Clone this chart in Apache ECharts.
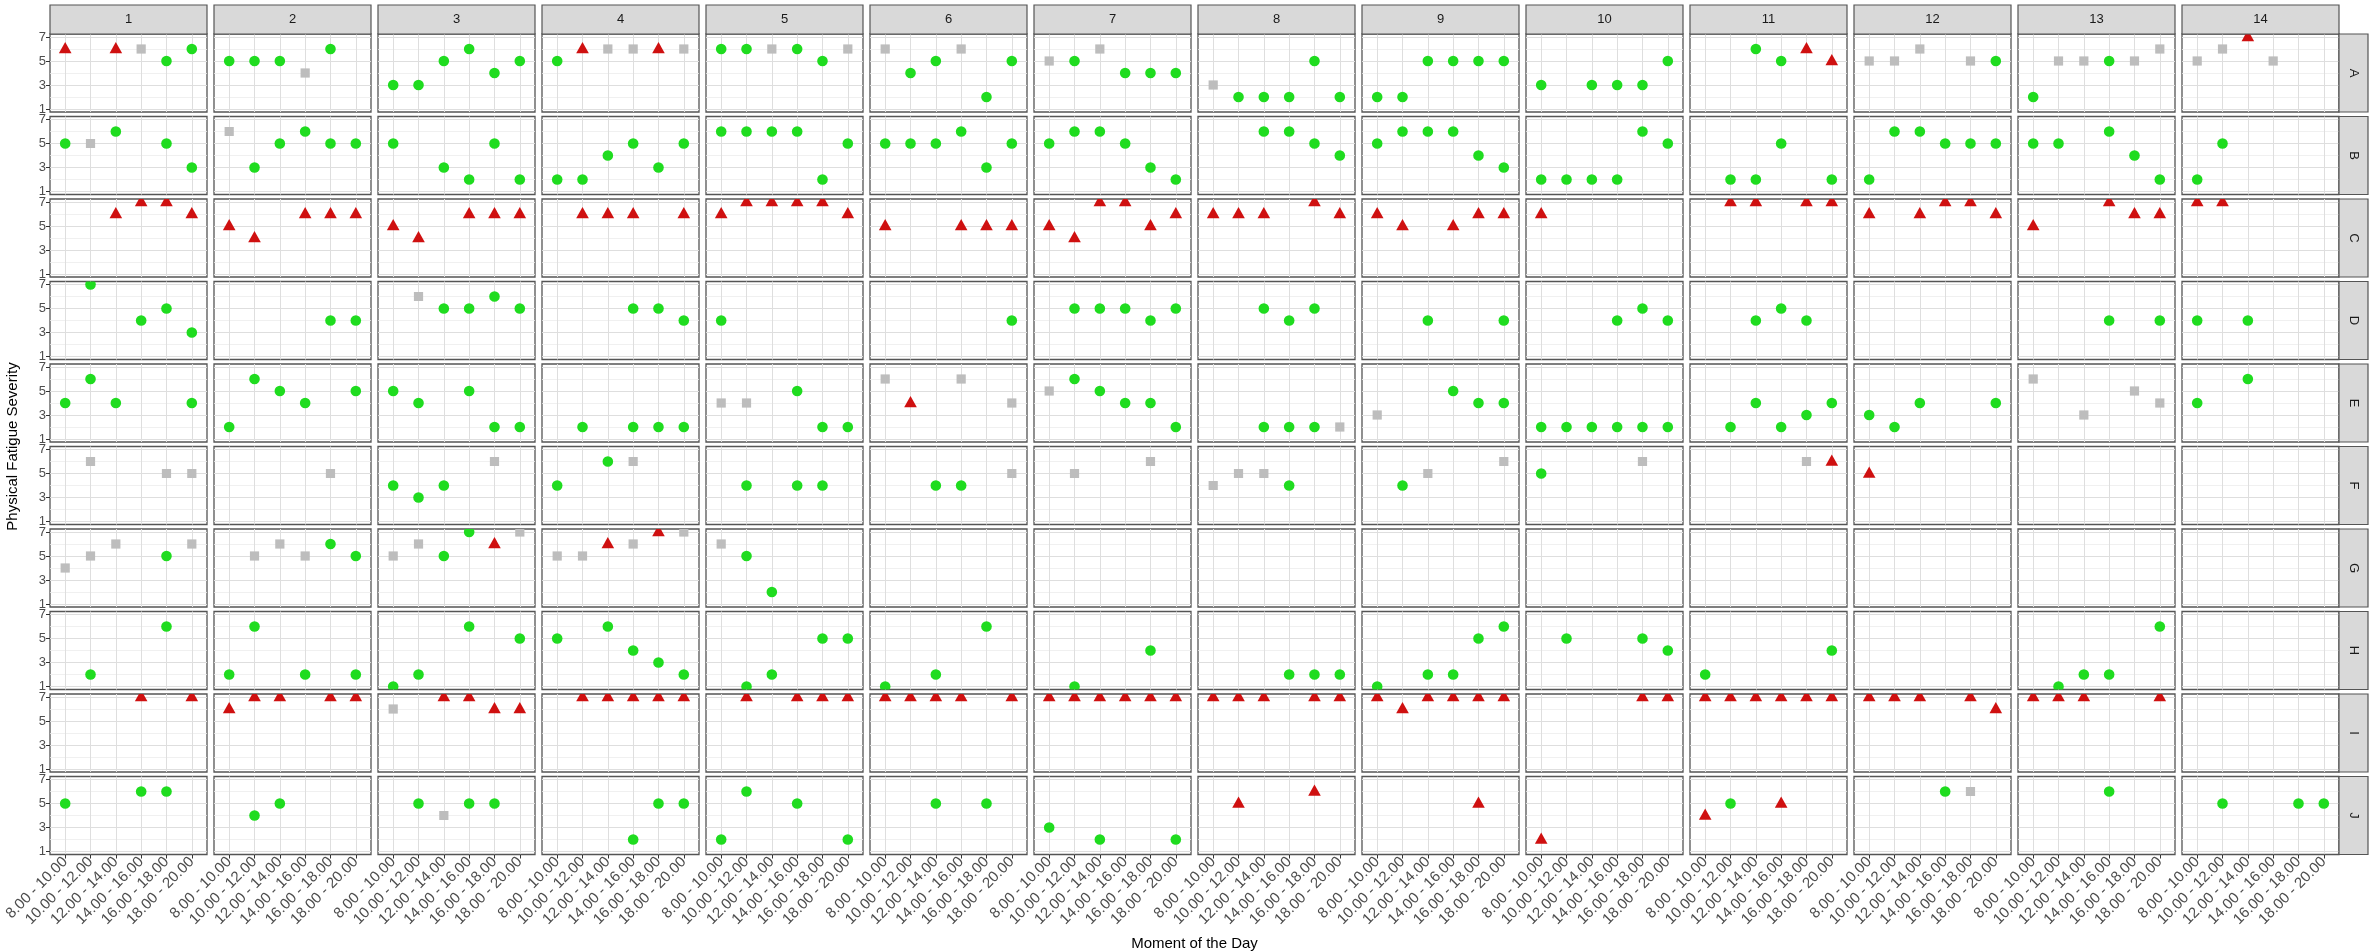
<!DOCTYPE html>
<html>
<head>
<meta charset="utf-8">
<script src="https://cdn.jsdelivr.net/npm/echarts@6/dist/echarts.min.js"></script>
<style>
html,body{margin:0;padding:0;background:#fff;}
#chart{width:2370px;height:951px;}
</style>
</head>
<body>
<div id="chart"></div>
<script>
// ---------- categories / ticks ----------
const rowLabels = ['A','B','C','D','E','F','G','H','I','J'];
const colLabels = ['1','2','3','4','5','6','7','8','9','10','11','12','13','14'];
const timeSlots = ['8.00 - 10.00','10.00 - 12.00','12.00 - 14.00','14.00 - 16.00','16.00 - 18.00','18.00 - 20.00'];
const yTicks = [1,3,5,7];
const yMinorTicks = [2,4,6];

// ---------- data: [row, column, time slot (1-6), severity] ----------
const circlePoints = [
 ['A',1,5,5],['A',1,6,6],
 ['A',2,1,5],['A',2,2,5],['A',2,3,5],['A',2,5,6],
 ['A',3,1,3],['A',3,2,3],['A',3,3,5],['A',3,4,6],['A',3,5,4],['A',3,6,5],
 ['A',4,1,5],
 ['A',5,1,6],['A',5,2,6],['A',5,4,6],['A',5,5,5],
 ['A',6,2,4],['A',6,3,5],['A',6,5,2],['A',6,6,5],
 ['A',7,2,5],['A',7,4,4],['A',7,5,4],['A',7,6,4],
 ['A',8,2,2],['A',8,3,2],['A',8,4,2],['A',8,5,5],['A',8,6,2],
 ['A',9,1,2],['A',9,2,2],['A',9,3,5],['A',9,4,5],['A',9,5,5],['A',9,6,5],
 ['A',10,1,3],['A',10,3,3],['A',10,4,3],['A',10,5,3],['A',10,6,5],
 ['A',11,3,6],['A',11,4,5],
 ['A',12,6,5],
 ['A',13,1,2],['A',13,4,5],

 ['B',1,1,5],['B',1,3,6],['B',1,5,5],['B',1,6,3],
 ['B',2,2,3],['B',2,3,5],['B',2,4,6],['B',2,5,5],['B',2,6,5],
 ['B',3,1,5],['B',3,3,3],['B',3,4,2],['B',3,5,5],['B',3,6,2],
 ['B',4,1,2],['B',4,2,2],['B',4,3,4],['B',4,4,5],['B',4,5,3],['B',4,6,5],
 ['B',5,1,6],['B',5,2,6],['B',5,3,6],['B',5,4,6],['B',5,5,2],['B',5,6,5],
 ['B',6,1,5],['B',6,2,5],['B',6,3,5],['B',6,4,6],['B',6,5,3],['B',6,6,5],
 ['B',7,1,5],['B',7,2,6],['B',7,3,6],['B',7,4,5],['B',7,5,3],['B',7,6,2],
 ['B',8,3,6],['B',8,4,6],['B',8,5,5],['B',8,6,4],
 ['B',9,1,5],['B',9,2,6],['B',9,3,6],['B',9,4,6],['B',9,5,4],['B',9,6,3],
 ['B',10,1,2],['B',10,2,2],['B',10,3,2],['B',10,4,2],['B',10,5,6],['B',10,6,5],
 ['B',11,2,2],['B',11,3,2],['B',11,4,5],['B',11,6,2],
 ['B',12,1,2],['B',12,2,6],['B',12,3,6],['B',12,4,5],['B',12,5,5],['B',12,6,5],
 ['B',13,1,5],['B',13,2,5],['B',13,4,6],['B',13,5,4],['B',13,6,2],
 ['B',14,1,2],['B',14,2,5],

 ['D',1,2,7],['D',1,4,4],['D',1,5,5],['D',1,6,3],
 ['D',2,5,4],['D',2,6,4],
 ['D',3,3,5],['D',3,4,5],['D',3,5,6],['D',3,6,5],
 ['D',4,4,5],['D',4,5,5],['D',4,6,4],
 ['D',5,1,4],
 ['D',6,6,4],
 ['D',7,2,5],['D',7,3,5],['D',7,4,5],['D',7,5,4],['D',7,6,5],
 ['D',8,3,5],['D',8,4,4],['D',8,5,5],
 ['D',9,3,4],['D',9,6,4],
 ['D',10,4,4],['D',10,5,5],['D',10,6,4],
 ['D',11,3,4],['D',11,4,5],['D',11,5,4],
 ['D',13,4,4],['D',13,6,4],
 ['D',14,1,4],['D',14,3,4],

 ['E',1,1,4],['E',1,2,6],['E',1,3,4],['E',1,6,4],
 ['E',2,1,2],['E',2,2,6],['E',2,3,5],['E',2,4,4],['E',2,6,5],
 ['E',3,1,5],['E',3,2,4],['E',3,4,5],['E',3,5,2],['E',3,6,2],
 ['E',4,2,2],['E',4,4,2],['E',4,5,2],['E',4,6,2],
 ['E',5,4,5],['E',5,5,2],['E',5,6,2],
 ['E',7,2,6],['E',7,3,5],['E',7,4,4],['E',7,5,4],['E',7,6,2],
 ['E',8,3,2],['E',8,4,2],['E',8,5,2],
 ['E',9,4,5],['E',9,5,4],['E',9,6,4],
 ['E',10,1,2],['E',10,2,2],['E',10,3,2],['E',10,4,2],['E',10,5,2],['E',10,6,2],
 ['E',11,2,2],['E',11,3,4],['E',11,4,2],['E',11,5,3],['E',11,6,4],
 ['E',12,1,3],['E',12,2,2],['E',12,3,4],['E',12,6,4],
 ['E',14,1,4],['E',14,3,6],

 ['F',3,1,4],['F',3,2,3],['F',3,3,4],
 ['F',4,1,4],['F',4,3,6],
 ['F',5,2,4],['F',5,4,4],['F',5,5,4],
 ['F',6,3,4],['F',6,4,4],
 ['F',8,4,4],
 ['F',9,2,4],
 ['F',10,1,5],

 ['G',1,5,5],
 ['G',2,5,6],['G',2,6,5],
 ['G',3,3,5],['G',3,4,7],
 ['G',5,2,5],['G',5,3,2],

 ['H',1,2,2],['H',1,5,6],
 ['H',2,1,2],['H',2,2,6],['H',2,4,2],['H',2,6,2],
 ['H',3,1,1],['H',3,2,2],['H',3,4,6],['H',3,6,5],
 ['H',4,1,5],['H',4,3,6],['H',4,4,4],['H',4,5,3],['H',4,6,2],
 ['H',5,2,1],['H',5,3,2],['H',5,5,5],['H',5,6,5],
 ['H',6,1,1],['H',6,3,2],['H',6,5,6],
 ['H',7,2,1],['H',7,5,4],
 ['H',8,4,2],['H',8,5,2],['H',8,6,2],
 ['H',9,1,1],['H',9,3,2],['H',9,4,2],['H',9,5,5],['H',9,6,6],
 ['H',10,2,5],['H',10,5,5],['H',10,6,4],
 ['H',11,1,2],['H',11,6,4],
 ['H',13,2,1],['H',13,3,2],['H',13,4,2],['H',13,6,6],

 ['J',1,1,5],['J',1,4,6],['J',1,5,6],
 ['J',2,2,4],['J',2,3,5],
 ['J',3,2,5],['J',3,4,5],['J',3,5,5],
 ['J',4,4,2],['J',4,5,5],['J',4,6,5],
 ['J',5,1,2],['J',5,2,6],['J',5,4,5],['J',5,6,2],
 ['J',6,3,5],['J',6,5,5],
 ['J',7,1,3],['J',7,3,2],['J',7,6,2],
 ['J',11,2,5],
 ['J',12,4,6],
 ['J',13,4,6],
 ['J',14,2,5],['J',14,5,5],['J',14,6,5]
];

const trianglePoints = [
 ['A',1,1,6],['A',1,3,6],['A',4,2,6],['A',4,5,6],['A',11,5,6],['A',11,6,5],['A',14,3,7],

 ['C',1,3,6],['C',1,4,7],['C',1,5,7],['C',1,6,6],
 ['C',2,1,5],['C',2,2,4],['C',2,4,6],['C',2,5,6],['C',2,6,6],
 ['C',3,1,5],['C',3,2,4],['C',3,4,6],['C',3,5,6],['C',3,6,6],
 ['C',4,2,6],['C',4,3,6],['C',4,4,6],['C',4,6,6],
 ['C',5,1,6],['C',5,2,7],['C',5,3,7],['C',5,4,7],['C',5,5,7],['C',5,6,6],
 ['C',6,1,5],['C',6,4,5],['C',6,5,5],['C',6,6,5],
 ['C',7,1,5],['C',7,2,4],['C',7,3,7],['C',7,4,7],['C',7,5,5],['C',7,6,6],
 ['C',8,1,6],['C',8,2,6],['C',8,3,6],['C',8,5,7],['C',8,6,6],
 ['C',9,1,6],['C',9,2,5],['C',9,4,5],['C',9,5,6],['C',9,6,6],
 ['C',10,1,6],
 ['C',11,2,7],['C',11,3,7],['C',11,5,7],['C',11,6,7],
 ['C',12,1,6],['C',12,3,6],['C',12,4,7],['C',12,5,7],['C',12,6,6],
 ['C',13,1,5],['C',13,4,7],['C',13,5,6],['C',13,6,6],
 ['C',14,1,7],['C',14,2,7],

 ['E',6,2,4],
 ['F',11,6,6],['F',12,1,5],
 ['G',3,5,6],['G',4,3,6],['G',4,5,7],

 ['I',1,4,7],['I',1,6,7],
 ['I',2,1,6],['I',2,2,7],['I',2,3,7],['I',2,5,7],['I',2,6,7],
 ['I',3,3,7],['I',3,4,7],['I',3,5,6],['I',3,6,6],
 ['I',4,2,7],['I',4,3,7],['I',4,4,7],['I',4,5,7],['I',4,6,7],
 ['I',5,2,7],['I',5,4,7],['I',5,5,7],['I',5,6,7],
 ['I',6,1,7],['I',6,2,7],['I',6,3,7],['I',6,4,7],['I',6,6,7],
 ['I',7,1,7],['I',7,2,7],['I',7,3,7],['I',7,4,7],['I',7,5,7],['I',7,6,7],
 ['I',8,1,7],['I',8,2,7],['I',8,3,7],['I',8,5,7],['I',8,6,7],
 ['I',9,1,7],['I',9,2,6],['I',9,3,7],['I',9,4,7],['I',9,5,7],['I',9,6,7],
 ['I',10,5,7],['I',10,6,7],
 ['I',11,1,7],['I',11,2,7],['I',11,3,7],['I',11,4,7],['I',11,5,7],['I',11,6,7],
 ['I',12,1,7],['I',12,2,7],['I',12,3,7],['I',12,5,7],['I',12,6,6],
 ['I',13,1,7],['I',13,2,7],['I',13,3,7],['I',13,6,7],

 ['J',8,2,5],['J',8,5,6],['J',9,5,5],['J',10,1,2],['J',11,1,4],['J',11,4,5]
];

const squarePoints = [
 ['A',1,4,6],['A',2,4,4],['A',4,3,6],['A',4,4,6],['A',4,6,6],['A',5,3,6],['A',5,6,6],
 ['A',6,1,6],['A',6,4,6],['A',7,1,5],['A',7,3,6],['A',8,1,3],
 ['A',12,1,5],['A',12,2,5],['A',12,3,6],['A',12,5,5],
 ['A',13,2,5],['A',13,3,5],['A',13,5,5],['A',13,6,6],
 ['A',14,1,5],['A',14,2,6],['A',14,4,5],
 ['B',1,2,5],['B',2,1,6],
 ['D',3,2,6],
 ['E',5,1,4],['E',5,2,4],['E',6,1,6],['E',6,4,6],['E',6,6,4],['E',7,1,5],['E',8,6,2],['E',9,1,3],
 ['E',13,1,6],['E',13,3,3],['E',13,5,5],['E',13,6,4],
 ['F',1,2,6],['F',1,5,5],['F',1,6,5],['F',2,5,5],['F',3,5,6],['F',4,4,6],['F',6,6,5],
 ['F',7,2,5],['F',7,5,6],['F',8,1,4],['F',8,2,5],['F',8,3,5],['F',9,3,5],['F',9,6,6],
 ['F',10,5,6],['F',11,5,6],
 ['G',1,1,4],['G',1,2,5],['G',1,3,6],['G',1,6,6],
 ['G',2,2,5],['G',2,3,6],['G',2,4,5],
 ['G',3,1,5],['G',3,2,6],['G',3,6,7],
 ['G',4,1,5],['G',4,2,5],['G',4,4,6],['G',4,6,7],
 ['G',5,1,6],
 ['I',3,1,6],
 ['J',3,3,4],['J',12,5,6]
];

// ---------- layout ----------
const LEFT = 50, TOP = 34, PW = 157, PSTEP = 164, PH = 78, RSTEP = 82.5;
const FONT = "'Liberation Sans', Arial, sans-serif";
const xTickVals = timeSlots.map((s, i) => i + 1);
const Y_MIN = 0.75, Y_MAX = 7.25;

// marker drawing (clipped to the panel like ggplot)
function markerRenderer(kind, color) {
  return function (params, api) {
    const p = api.coord([api.value(0), api.value(1)]);
    const x = p[0], y = p[1];
    if (kind === 'circle') {
      return {type: 'circle', shape: {cx: x, cy: y, r: 5.3}, style: {fill: color}};
    }
    if (kind === 'triangle') {
      return {type: 'polygon', shape: {points: [[x, y - 7], [x - 6.3, y + 4.2], [x + 6.3, y + 4.2]]}, style: {fill: color}};
    }
    return {type: 'rect', shape: {x: x - 4.6, y: y - 4.6, width: 9.2, height: 9.2}, style: {fill: color}};
  };
}

const grids = [], xAxes = [], yAxes = [], series = [];
const shapeDefs = [
  {name: 'green', pts: circlePoints, kind: 'circle', color: '#1fdc1f'},
  {name: 'red', pts: trianglePoints, kind: 'triangle', color: '#cf1010'},
  {name: 'grey', pts: squarePoints, kind: 'square', color: '#bdbdbd'}
];

rowLabels.forEach((r, ri) => {
  colLabels.forEach((c, ci) => {
    const gi = ri * colLabels.length + ci;
    grids.push({
      left: LEFT + ci * PSTEP, top: TOP + ri * RSTEP, width: PW, height: PH,
      show: true, backgroundColor: '#fff', borderColor: '#555', borderWidth: 1.3,
      containLabel: false
    });
    const bottomRow = ri === rowLabels.length - 1;
    const leftCol = ci === 0;
    xAxes.push({
      gridIndex: gi, type: 'value', min: 0.4, max: 6.6,
      axisLine: {show: false},
      axisTick: {show: bottomRow, customValues: xTickVals, length: 4, lineStyle: {color: '#333', width: 1}},
      axisLabel: {show: bottomRow, customValues: xTickVals, rotate: 45, margin: 5,
        fontSize: 15, color: '#4d4d4d', fontFamily: FONT,
        formatter: v => timeSlots[Math.round(v) - 1]},
      splitLine: {show: true, lineStyle: {color: '#dedede', width: 1}}
    });
    yAxes.push({
      gridIndex: gi, type: 'value', min: Y_MIN, max: Y_MAX,
      axisLine: {show: false},
      axisTick: {show: leftCol, customValues: yTicks, length: 4, lineStyle: {color: '#333', width: 1}},
      axisLabel: {show: leftCol, customValues: yTicks, margin: 4, fontSize: 13, color: '#4d4d4d', fontFamily: FONT},
      splitLine: {show: true, lineStyle: {color: '#dedede', width: 1}}
    });
    yAxes.push({
      gridIndex: gi, type: 'value', min: Y_MIN, max: Y_MAX, position: 'left',
      axisLine: {show: false},
      axisTick: {show: false, customValues: yMinorTicks},
      axisLabel: {show: false, customValues: yMinorTicks},
      splitLine: {show: true, lineStyle: {color: '#ececec', width: 0.8}}
    });
    shapeDefs.forEach(sd => {
      const d = sd.pts.filter(p => p[0] === r && String(p[1]) === c).map(p => [p[2], p[3]]);
      if (!d.length) return;
      series.push({
        type: 'custom', name: sd.name, coordinateSystem: 'cartesian2d',
        xAxisIndex: gi, yAxisIndex: gi * 2, clip: true, silent: true,
        encode: {x: 0, y: 1}, data: d, z: 5,
        renderItem: markerRenderer(sd.kind, sd.color)
      });
    });
  });
});

// strips and titles
const graphics = [];
colLabels.forEach((c, ci) => {
  const x = LEFT + ci * PSTEP;
  graphics.push({type: 'rect', shape: {x: x, y: TOP - 29, width: PW, height: 29},
    style: {fill: '#d9d9d9', stroke: '#555', lineWidth: 1.2}, z: 10});
  graphics.push({type: 'text', x: x + PW / 2, y: TOP - 14.5,
    style: {text: c, align: 'center', verticalAlign: 'middle', fill: '#1a1a1a', font: '13px ' + FONT}, z: 11});
});
const stripX = LEFT + (colLabels.length - 1) * PSTEP + PW;
rowLabels.forEach((r, ri) => {
  const y = TOP + ri * RSTEP;
  graphics.push({type: 'rect', shape: {x: stripX, y: y, width: 29, height: PH},
    style: {fill: '#d9d9d9', stroke: '#555', lineWidth: 1.2}, z: 10});
  graphics.push({type: 'text', x: stripX + 14.5, y: y + PH / 2, rotation: -Math.PI / 2,
    style: {text: r, align: 'center', verticalAlign: 'middle', fill: '#1a1a1a', font: '13px ' + FONT}, z: 11});
});
graphics.push({type: 'text', x: 13, y: TOP + (rowLabels.length * RSTEP) / 2, rotation: Math.PI / 2,
  style: {text: 'Physical Fatigue Severity', align: 'center', verticalAlign: 'middle', fill: '#000', font: '15px ' + FONT}});
graphics.push({type: 'text', x: LEFT + ((colLabels.length - 1) * PSTEP + PW) / 2, y: 944,
  style: {text: 'Moment of the Day', align: 'center', verticalAlign: 'middle', fill: '#000', font: '15px ' + FONT}});

const chart = echarts.init(document.getElementById('chart'), null, {renderer: 'canvas'});
chart.setOption({
  backgroundColor: '#fff',
  animation: false,
  textStyle: {fontFamily: FONT},
  grid: grids,
  xAxis: xAxes,
  yAxis: yAxes,
  series: series,
  graphic: graphics
});
</script>
</body>
</html>
